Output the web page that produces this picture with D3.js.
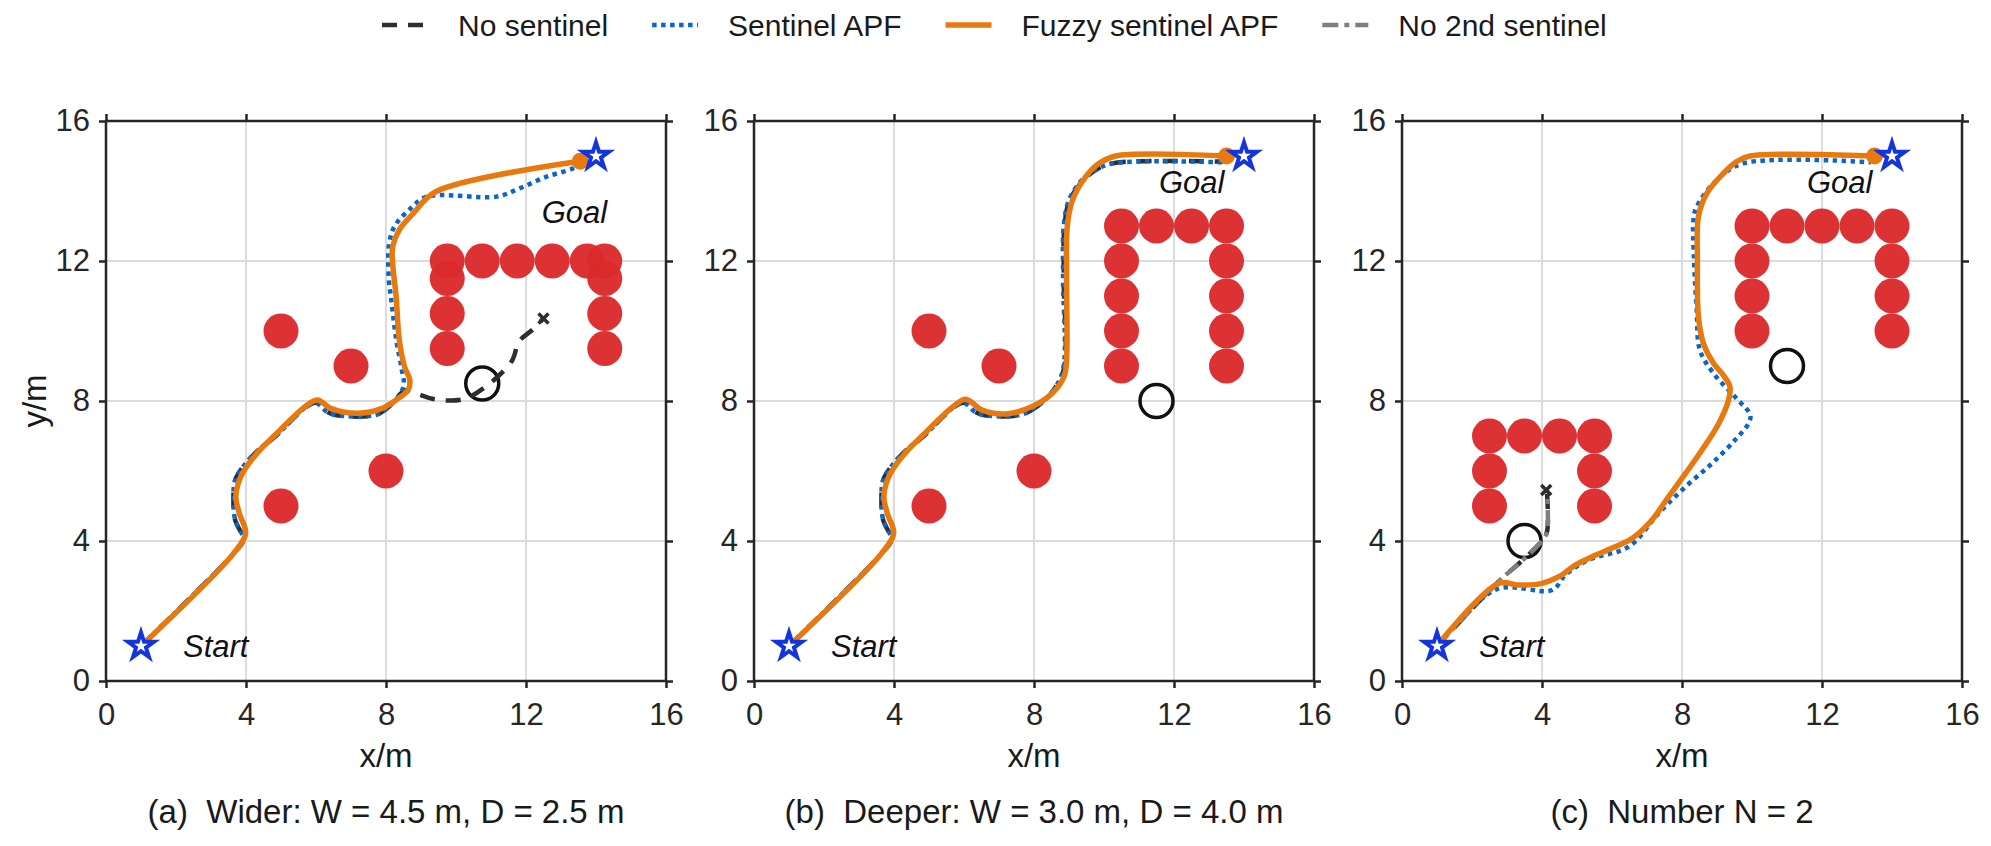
<!DOCTYPE html>
<html>
<head>
<meta charset="utf-8">
<script src="https://cdn.jsdelivr.net/npm/d3@7"></script>
<style>
  body { margin: 0; background: #fff; }
  svg { font-family: "Liberation Sans", Arial, sans-serif; }
  .tick text { font-size: 31px; fill: #262626; }
</style>
</head>
<body>
<svg width="1991" height="846"></svg>
<script>
// --- data (metres) ---
const axisTicks = [0, 4, 8, 12, 16];
const seriesNames = ["No sentinel", "Sentinel APF", "Fuzzy sentinel APF", "No 2nd sentinel"];
const captions = ["(a)  Wider: W = 4.5 m, D = 2.5 m", "(b)  Deeper: W = 3.0 m, D = 4.0 m", "(c)  Number N = 2"];

const startPoint = [1, 1];
const goalPoint = [14, 15];
const scatteredObstacles = [[5, 10], [7, 9], [8, 6], [5, 5]];

const trapA = [[9.75, 12], [10.75, 12], [11.75, 12], [12.75, 12], [13.75, 12], [14.25, 12],
  [9.75, 11.5], [9.75, 10.5], [9.75, 9.5], [14.25, 11.5], [14.25, 10.5], [14.25, 9.5]];
const trapB = [[10.5, 13], [11.5, 13], [12.5, 13], [13.5, 13],
  [10.5, 12], [10.5, 11], [10.5, 10], [10.5, 9], [13.5, 12], [13.5, 11], [13.5, 10], [13.5, 9]];
const trapC = [[10, 13], [11, 13], [12, 13], [13, 13], [14, 13],
  [10, 12], [10, 11], [10, 10], [14, 12], [14, 11], [14, 10],
  [2.5, 7], [3.5, 7], [4.5, 7], [5.5, 7], [2.5, 6], [2.5, 5], [5.5, 6], [5.5, 5]];

const minimaA = [[10.75, 8.5]];
const minimaB = [[11.5, 8]];
const minimaC = [[11, 9], [3.5, 4]];

const fuzzyA = [[1, 1], [3.64, 3.64], [3.99, 4.22], [3.81, 4.79], [3.71, 5.26], [3.81, 5.74], [4.0, 6.1],
  [4.37, 6.57], [4.85, 7.05], [5.33, 7.52], [5.71, 7.86], [6.05, 8.03], [6.42, 7.79], [7.2, 7.65],
  [7.89, 7.79], [8.29, 8.03], [8.63, 8.31], [8.68, 8.6], [8.53, 8.98], [8.38, 9.74], [8.29, 10.98],
  [8.19, 11.93], [8.19, 12.41], [8.38, 12.89], [8.78, 13.36], [9.42, 13.98], [13.55, 14.85]];
const sentinelA = [[1, 1], [3.64, 3.64], [3.92, 4.03], [3.69, 4.6], [3.64, 5.17], [3.69, 5.74], [3.9, 6.1],
  [4.3, 6.55], [4.85, 7.0], [5.33, 7.48], [5.7, 7.82], [6.0, 7.95], [6.3, 7.7], [6.56, 7.6], [7.7, 7.6],
  [8.1, 7.85], [8.5, 8.41], [8.45, 8.9], [8.3, 9.7], [8.15, 10.9], [8.08, 11.5], [8.09, 12.5],
  [8.25, 13.0], [8.7, 13.5], [9.17, 13.84], [11.16, 13.84], [11.83, 14.08], [12.59, 14.41],
  [13.35, 14.65], [13.55, 14.8]];
const noSentinelA = [[1, 1], [3.64, 3.64], [3.92, 4.03], [3.69, 4.6], [3.64, 5.17], [3.69, 5.74], [3.9, 6.1],
  [4.3, 6.55], [4.85, 7.0], [5.33, 7.48], [5.7, 7.82], [6.0, 7.95], [6.3, 7.7], [6.56, 7.6], [7.7, 7.6],
  [8.1, 7.85], [8.55, 8.3], [8.9, 8.2], [9.4, 8.05], [10.2, 8.05], [10.9, 8.45], [11.6, 9.15],
  [11.8, 9.7], [12.2, 10.05], [12.5, 10.36]];

const fuzzyB = [[1, 1], [3.64, 3.64], [3.99, 4.22], [3.81, 4.79], [3.71, 5.26], [3.81, 5.74], [4.0, 6.1],
  [4.37, 6.57], [4.85, 7.05], [5.33, 7.52], [5.71, 7.86], [6.05, 8.05], [6.52, 7.74], [7.19, 7.63],
  [7.95, 7.84], [8.52, 8.22], [8.86, 8.7], [8.93, 9.17], [8.93, 11.55], [8.95, 12.98], [9.1, 13.74],
  [9.48, 14.41], [9.86, 14.79], [10.33, 15.0], [13.5, 15.0]];
const sentinelB = [[1, 1], [3.64, 3.64], [3.92, 4.03], [3.69, 4.6], [3.64, 5.17], [3.69, 5.74], [3.9, 6.1],
  [4.3, 6.55], [4.85, 7.0], [5.33, 7.48], [5.7, 7.82], [6.0, 7.95], [6.3, 7.7], [6.56, 7.6], [7.6, 7.6],
  [8.1, 7.85], [8.55, 8.3], [8.83, 8.9], [8.83, 11.5], [8.85, 13.0], [9.0, 13.74], [9.37, 14.31],
  [9.76, 14.6], [10.24, 14.79], [13.4, 14.82]];
const noSentinelB = [[1, 1], [3.64, 3.64], [3.92, 4.03], [3.69, 4.6], [3.64, 5.17], [3.69, 5.74], [3.9, 6.1],
  [4.3, 6.55], [4.85, 7.0], [5.33, 7.48], [5.7, 7.82], [6.0, 7.95], [6.3, 7.7], [6.56, 7.6], [7.6, 7.6],
  [8.1, 7.85], [8.55, 8.3], [8.85, 8.9], [8.85, 11.5], [8.87, 13.0], [9.02, 13.74], [9.4, 14.3],
  [9.8, 14.62], [10.3, 14.8], [13.4, 14.84]];

const fuzzyC = [[1, 1], [2.76, 2.79], [3.33, 2.74], [4.0, 2.79], [4.48, 2.98], [4.95, 3.31], [5.43, 3.55],
  [6.1, 3.84], [6.57, 4.07], [7.14, 4.6], [7.62, 5.27], [8.1, 5.93], [8.57, 6.6], [9.05, 7.36],
  [9.33, 8.03], [9.37, 8.41], [9.18, 8.74], [8.9, 9.08], [8.61, 9.65], [8.47, 10.41], [8.44, 12.03],
  [8.47, 13.27], [8.71, 13.93], [9.18, 14.5], [9.56, 14.84], [9.94, 15.0], [13.5, 15.0]];
const sentinelC = [[1, 1], [2.7, 2.62], [4.29, 2.6], [4.67, 3.03], [5.33, 3.46], [6.48, 3.84], [7.33, 4.79],
  [8.1, 5.55], [8.86, 6.22], [9.52, 6.89], [9.9, 7.36], [9.95, 7.6], [9.55, 8.08], [8.9, 8.79],
  [8.51, 9.46], [8.42, 10.6], [8.34, 12.12], [8.33, 13.2], [8.42, 13.55], [8.99, 14.31],
  [9.75, 14.79], [13.4, 14.82]];
const noSentinelC = [[1, 1], [2.76, 2.84], [3.5, 3.5], [4.05, 4.07], [4.15, 4.3], [4.14, 5.45]];
const noSecondC = [[1, 1], [2.76, 2.84], [3.5, 3.5], [4.05, 4.07], [4.15, 4.3], [4.14, 5.45]];

const stuckA = [[12.5, 10.36]];
const stuckB = [];
const stuckC = [[4.12, 5.46]];

// label anchors (metres)
const startLabel = [2.2, 0.68];
const goalLabels = [[12.45, 13.09], [11.57, 13.93], [11.57, 13.93]];

const obstacleRadius = 0.5;

// --- layout ---
const svg = d3.select("svg");
const panelLeft = [106, 754, 1402];
const panelTop = 121;
const size = 560;
const colors = { noSentinel: "#2e2e2e", sentinel: "#0a66c8", fuzzy: "#e8790f", noSecond: "#7f7f7f",
  obstacle: "#db2a2c", star: "#1434dc", axis: "#262626" };
const styles = [
  { key: "noSentinel", stroke: colors.noSentinel, width: 4.5, dash: "15,11" },
  { key: "sentinel", stroke: colors.sentinel, width: 4.5, dash: "4.5,4.5" },
  { key: "fuzzy", stroke: colors.fuzzy, width: 5.5, dash: null },
  { key: "noSecond", stroke: colors.noSecond, width: 4.5, dash: "16,6,5,6" }
];

const panels = [
  { obstacles: scatteredObstacles.concat(trapA), minima: minimaA, stuck: stuckA,
    series: { noSentinel: noSentinelA, sentinel: sentinelA, fuzzy: fuzzyA, noSecond: [] } },
  { obstacles: scatteredObstacles.concat(trapB), minima: minimaB, stuck: stuckB,
    series: { noSentinel: noSentinelB, sentinel: sentinelB, fuzzy: fuzzyB, noSecond: [] } },
  { obstacles: trapC, minima: minimaC, stuck: stuckC,
    series: { noSentinel: noSentinelC, sentinel: sentinelC, fuzzy: fuzzyC, noSecond: noSecondC } }
];

const x = d3.scaleLinear().domain([0, 16]).range([0, size]);
const y = d3.scaleLinear().domain([0, 16]).range([size, 0]);
const line = d3.line().x(d => x(d[0])).y(d => y(d[1])).curve(d3.curveCatmullRom.alpha(0.5));
const star = d3.symbol().type(d3.symbolStar).size(210);

panels.forEach((p, i) => {
  const g = svg.append("g").attr("transform", `translate(${panelLeft[i]},${panelTop})`);

  // grid
  const grid = axisTicks.slice(1, -1);
  g.selectAll(".gx").data(grid).join("line")
    .attr("x1", d => x(d)).attr("x2", d => x(d)).attr("y1", 0).attr("y2", size)
    .attr("stroke", "#dcdcdc").attr("stroke-width", 2);
  g.selectAll(".gy").data(grid).join("line")
    .attr("y1", d => y(d)).attr("y2", d => y(d)).attr("x1", 0).attr("x2", size)
    .attr("stroke", "#dcdcdc").attr("stroke-width", 2);

  // obstacles
  g.selectAll(".obs").data(p.obstacles).join("circle")
    .attr("cx", d => x(d[0])).attr("cy", d => y(d[1]))
    .attr("r", x(obstacleRadius) - x(0))
    .attr("fill", colors.obstacle).attr("fill-opacity", 0.96);

  // local minima
  g.selectAll(".min").data(p.minima).join("circle")
    .attr("cx", d => x(d[0])).attr("cy", d => y(d[1]))
    .attr("r", x(obstacleRadius) - x(0) - 1)
    .attr("fill", "none").attr("stroke", "#111").attr("stroke-width", 3.5);

  // paths
  ["noSentinel", "noSecond", "sentinel", "fuzzy"].forEach(k => {
    const data = p.series[k];
    if (!data.length) return;
    const s = styles.find(t => t.key === k);
    g.append("path").attr("d", line(data)).attr("fill", "none")
      .attr("stroke", s.stroke).attr("stroke-width", s.width)
      .attr("stroke-dasharray", s.dash).attr("stroke-linejoin", "round");
  });

  // stuck markers
  g.selectAll(".stuck").data(p.stuck).join("path")
    .attr("transform", d => `translate(${x(d[0])},${y(d[1])})`)
    .attr("d", "M-5,-5L5,5M-5,5L5,-5")
    .attr("stroke", colors.noSentinel).attr("stroke-width", 3.5);

  // fuzzy end point
  const last = p.series.fuzzy[p.series.fuzzy.length - 1];
  g.append("circle").attr("cx", x(last[0])).attr("cy", y(last[1])).attr("r", 8.5).attr("fill", colors.fuzzy);

  // start / goal
  g.selectAll(".star").data([startPoint, goalPoint]).join("path")
    .attr("transform", d => `translate(${x(d[0])},${y(d[1])})`)
    .attr("d", star).attr("fill", "#fff").attr("stroke", colors.star).attr("stroke-width", 4);

  g.append("text").attr("x", x(startLabel[0])).attr("y", y(startLabel[1]))
    .attr("font-size", 31).attr("font-style", "italic").attr("fill", "#111").text("Start");
  g.append("text").attr("x", x(goalLabels[i][0])).attr("y", y(goalLabels[i][1]))
    .attr("font-size", 31).attr("font-style", "italic").attr("fill", "#111").text("Goal");

  // axes
  const styleAxis = a => {
    a.select(".domain").remove();
    a.selectAll(".tick line").attr("stroke", colors.axis).attr("stroke-width", 2.5);
  };
  g.append("g").attr("transform", `translate(0,${size})`)
    .call(d3.axisBottom(x).tickValues(axisTicks).tickSize(7).tickPadding(15)).call(styleAxis);
  g.append("g")
    .call(d3.axisLeft(y).tickValues(axisTicks).tickSize(7).tickPadding(9)).call(styleAxis);
  g.append("g")
    .call(d3.axisTop(x).tickValues(axisTicks).tickSize(7).tickFormat("")).call(styleAxis);
  g.append("g").attr("transform", `translate(${size},0)`)
    .call(d3.axisRight(y).tickValues(axisTicks).tickSize(7).tickFormat("")).call(styleAxis);
  g.append("rect").attr("width", size).attr("height", size)
    .attr("fill", "none").attr("stroke", colors.axis).attr("stroke-width", 2.5);

  g.append("text").attr("x", size / 2).attr("y", 646).attr("text-anchor", "middle")
    .attr("font-size", 33).attr("fill", "#1a1a1a").text("x/m");
  if (i === 0) {
    g.append("text").attr("transform", `translate(-72,${size / 2}) rotate(-90)`)
      .attr("text-anchor", "middle").attr("dy", "0.35em")
      .attr("font-size", 33).attr("fill", "#1a1a1a").text("y/m");
  }

  // caption, centred under the panel
  g.append("text").attr("x", size / 2).attr("y", 702).attr("text-anchor", "middle")
    .attr("font-size", 33).attr("fill", "#1a1a1a").style("white-space", "pre").text(captions[i]);
});

// legend
const legend = svg.append("g");
let cursor = 458;
seriesNames.forEach((name, i) => {
  const s = styles[i];
  legend.append("line").attr("x1", cursor - 76).attr("x2", cursor - 30).attr("y1", 25).attr("y2", 25)
    .attr("stroke", s.stroke).attr("stroke-width", s.width).attr("stroke-dasharray", s.dash);
  const t = legend.append("text").attr("x", cursor).attr("y", 36)
    .attr("font-size", 30).attr("fill", "#1a1a1a").text(name);
  cursor += t.node().getComputedTextLength() + 120;
});
</script>
</body>
</html>
